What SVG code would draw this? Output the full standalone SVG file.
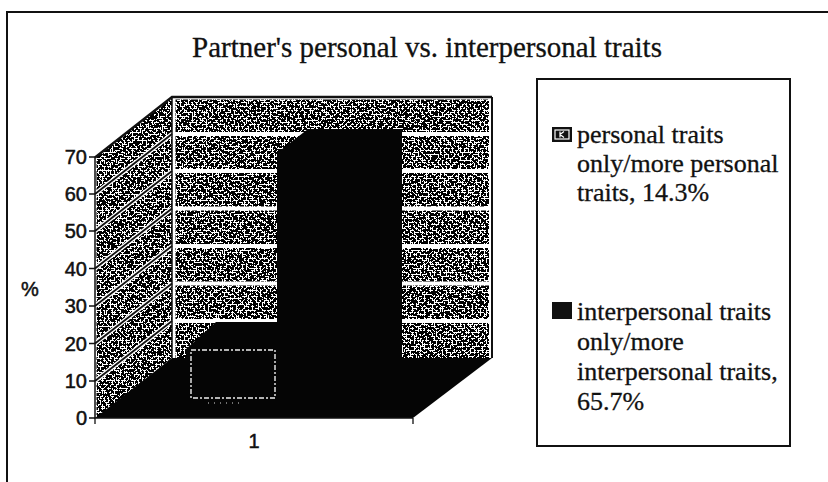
<svg xmlns="http://www.w3.org/2000/svg" width="828" height="482" viewBox="0 0 828 482">
  <style>
    .serif { font-family: "Liberation Serif", "Times New Roman", serif; fill: #111; stroke: #111; stroke-width: 0.3; }
    .sans { font-family: "Liberation Sans", Arial, sans-serif; fill: #111; stroke: #111; stroke-width: 0.5; }
    .title { font-size: 29px; }
    .leg { font-size: 26px; }
    .tick { font-size: 20px; text-anchor: end; }
    .ink { stroke: #111; fill: none; }
    .solid { fill: #050505; }
    .halo { stroke: #fff; stroke-width: 4.5; fill: none; }
    .diag { stroke: #111; stroke-width: 1.8; fill: none; }
  </style>
  <defs>
    <!-- speckled halftone fill used on the chart walls -->
    <filter id="grain" filterUnits="userSpaceOnUse" x="88" y="90" width="410" height="335" color-interpolation-filters="sRGB">
      <feTurbulence type="fractalNoise" baseFrequency="0.5" numOctaves="3" seed="7" result="noise"/>
      <feColorMatrix in="noise" type="matrix" values="1 0 0 0 0  1 0 0 0 0  1 0 0 0 0  0 0 0 0 1" result="grey"/>
      <feComponentTransfer in="grey" result="bw">
        <feFuncR type="discrete" tableValues="0 0 0 0 0 0 0 0 0 0 0 0 0 0 0 0 0 0 0 0 0 0 0 0 0 1 1 1 1 1 1 1 1 1 1 1 1 1 1 1 1 1 1 1 1 1 1 1 1"/>
        <feFuncG type="discrete" tableValues="0 0 0 0 0 0 0 0 0 0 0 0 0 0 0 0 0 0 0 0 0 0 0 0 0 1 1 1 1 1 1 1 1 1 1 1 1 1 1 1 1 1 1 1 1 1 1 1 1"/>
        <feFuncB type="discrete" tableValues="0 0 0 0 0 0 0 0 0 0 0 0 0 0 0 0 0 0 0 0 0 0 0 0 0 1 1 1 1 1 1 1 1 1 1 1 1 1 1 1 1 1 1 1 1 1 1 1 1"/>
      </feComponentTransfer>
      <feComposite in="bw" in2="SourceGraphic" operator="in"/>
    </filter>
  </defs>

  <rect width="828" height="482" fill="#fff"/>

  <!-- chart area frame -->
  <path id="frame" d="M7 482 V12 H828" class="ink" stroke-width="2"/>

  <g id="title">
    <text class="serif title" x="427" y="57" text-anchor="middle">Partner's personal vs. interpersonal traits</text>
  </g>

  <g id="plot">
    <!-- walls: textured panels -->
    <g filter="url(#grain)" fill="#000">
      <polygon points="96.5,157 172,97 172,358 96.5,418"/>
      <rect x="175.5" y="99.5" width="313.5" height="32.5"/>
      <rect x="175.5" y="136" width="313.5" height="33"/>
      <rect x="175.5" y="173" width="313.5" height="33.5"/>
      <rect x="175.5" y="210.5" width="313.5" height="33.5"/>
      <rect x="175.5" y="248" width="313.5" height="33.5"/>
      <rect x="175.5" y="285.5" width="313.5" height="33.5"/>
      <rect x="175.5" y="323" width="313.5" height="35"/>
    </g>

    <!-- side wall gridlines -->
    <g>
      <path class="halo" d="M95 194 L172 134 M95 231 L172 171 M95 268.5 L172 208.5 M95 306 L172 246 M95 343.5 L172 283.5 M95 381 L172 321"/>
      <path class="diag" d="M95 194 L172 134 M95 231 L172 171 M95 268.5 L172 208.5 M95 306 L172 246 M95 343.5 L172 283.5 M95 381 L172 321"/>
    </g>

    <!-- wall outlines -->
    <path class="ink" stroke-width="2.5" d="M95 157.5 L172 97 H492"/>
    <path class="ink" stroke-width="1.5" d="M172 97 V358"/>
    <path class="ink" stroke-width="2" d="M492 97 V358"/>

    <!-- floor -->
    <polygon id="floor" class="solid" points="95,418 413,418 492,358 172,358"/>

    <!-- series: personal traits (14.3%) -->
    <g id="bar-personal">
      <polygon class="solid" points="186,400 186,349 216,322 279,322 279,400"/>
      <rect x="191" y="350" width="84" height="48" fill="none" stroke="#eee" stroke-width="1.4" stroke-dasharray="5 2 2 2"/>
      <line x1="208" y1="403" x2="243" y2="403" stroke="#ddd" stroke-width="1" stroke-dasharray="1 5"/>
    </g>

    <!-- series: interpersonal traits (65.7%) -->
    <g id="bar-interpersonal">
      <polygon class="solid" points="277,153 308,129 402,129 402,362 277,362"/>
    </g>
  </g>

  <g id="axes">
    <path class="ink" stroke-width="1.5" d="M95 157 V418 H413"/>
    <path class="ink" stroke-width="1.3" d="M89 157 H95 M89 194 H95 M89 231 H95 M89 268.5 H95 M89 306 H95 M89 343.5 H95 M89 381 H95 M89 418 H95 M95 418 V424 M413 418 V424"/>
    <g class="sans tick">
      <text x="87" y="164">70</text>
      <text x="87" y="201">60</text>
      <text x="87" y="238">50</text>
      <text x="87" y="275.5">40</text>
      <text x="87" y="313">30</text>
      <text x="87" y="350.5">20</text>
      <text x="87" y="388">10</text>
      <text x="87" y="425">0</text>
    </g>
    <text class="sans" font-size="20" x="30" y="296" text-anchor="middle">%</text>
    <text class="sans" font-size="20" x="254" y="448" text-anchor="middle">1</text>
  </g>

  <g id="legend">
    <rect x="537" y="79" width="253" height="367" fill="#fff" stroke="#111" stroke-width="2"/>
    <g id="legend-personal">
      <rect x="552" y="127" width="20" height="15" fill="#111"/>
      <rect x="555" y="130" width="14" height="9" fill="none" stroke="#fff" stroke-width="1.2"/>
      <path d="M560 131.5 V137.5 M560 134.5 L564 131.5 M560 134.5 L564 137.5" stroke="#fff" stroke-width="1.2" fill="none"/>
      <text class="serif leg" x="577" y="143">personal traits</text>
      <text class="serif leg" x="577" y="172">only/more personal</text>
      <text class="serif leg" x="577" y="201">traits, 14.3%</text>
    </g>
    <g id="legend-interpersonal">
      <rect x="552" y="302" width="20" height="17" fill="#111"/>
      <text class="serif leg" x="577" y="320">interpersonal traits</text>
      <text class="serif leg" x="577" y="350">only/more</text>
      <text class="serif leg" x="577" y="380">interpersonal traits,</text>
      <text class="serif leg" x="577" y="410">65.7%</text>
    </g>
  </g>
</svg>
